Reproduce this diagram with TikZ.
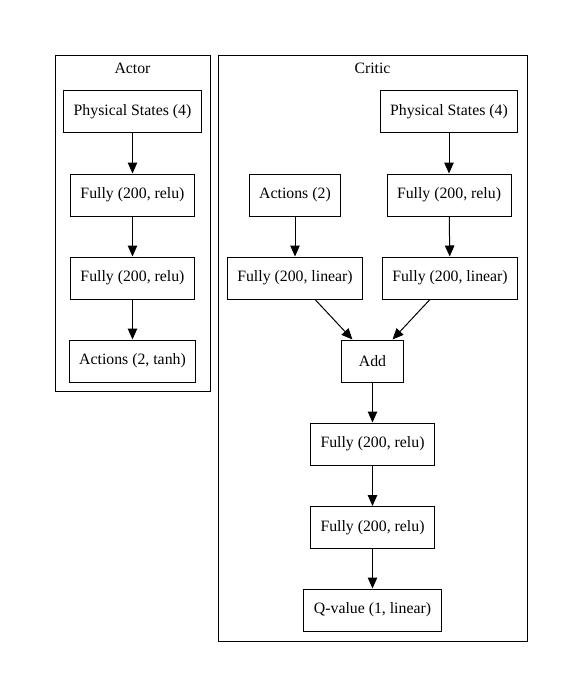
\documentclass[tikz,border=0pt]{standalone}
\usepackage{fontspec}
\setmainfont{Liberation Serif}
\usetikzlibrary{arrows.meta}
\begin{document}
\begin{tikzpicture}[x=1pt,y=-1pt,
  every node/.style={font=\fontsize{15.8}{18}\selectfont},
  box/.style={draw,line width=1pt,rectangle,minimum height=42pt,minimum width=62pt,inner xsep=10pt,inner ysep=0pt},
  cluster/.style={draw,line width=1pt},
  conn/.style={line width=1pt,-{Triangle[length=11pt,width=9.5pt]}}]
\useasboundingbox[fill=white] (0,0) rectangle (581,696);
% clusters
\draw[cluster] (55,55) rectangle (210,391);
\draw[cluster] (218,55) rectangle (527,641);
\node (actortitle) at (132.5,68) {Actor};
\node (critictitle) at (372.5,68) {Critic};
% actor
\node[box] (aps) at (132.5,111.5) {Physical States (4)};
\node[box] (af1) at (132.5,195) {Fully (200, relu)};
\node[box] (af2) at (132.5,278) {Fully (200, relu)};
\node[box] (aact) at (132.5,361) {Actions (2, tanh)};
\draw[conn] (aps) -- (af1);
\draw[conn] (af1) -- (af2);
\draw[conn] (af2) -- (aact);
% critic
\node[box] (cps) at (449,111.5) {Physical States (4)};
\node[box] (cact) at (295,195) {Actions (2)};
\node[box] (cfr) at (449,195) {Fully (200, relu)};
\node[box] (cfl1) at (295,278) {Fully (200, linear)};
\node[box] (cfl2) at (450,278) {Fully (200, linear)};
\node[box] (add) at (372.5,361) {Add};
\node[box] (cf1) at (372.5,444) {Fully (200, relu)};
\node[box] (cf2) at (372.5,527.5) {Fully (200, relu)};
\node[box] (q) at (372.5,610) {Q-value (1, linear)};
\draw[conn] (cps) -- (cfr);
\draw[conn] (cact) -- (cfl1);
\draw[conn] (cfr) -- (cfl2);
\draw[conn] (cfl1) -- (add);
\draw[conn] (cfl2) -- (add);
\draw[conn] (add) -- (cf1);
\draw[conn] (cf1) -- (cf2);
\draw[conn] (cf2) -- (q);
\end{tikzpicture}
\end{document}
